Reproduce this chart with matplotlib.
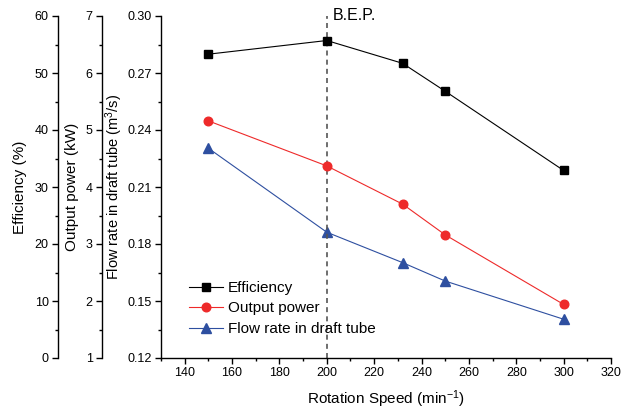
import matplotlib
matplotlib.use("Agg")
import matplotlib.pyplot as plt
from matplotlib.ticker import MultipleLocator

plt.rcParams['font.family'] = ['Liberation Sans', 'DejaVu Sans']
plt.rcParams['mathtext.fontset'] = 'custom'
plt.rcParams['mathtext.rm'] = 'Liberation Sans'
plt.rcParams['mathtext.it'] = 'Liberation Sans:italic'

speed = [150, 200, 232, 250, 300]
efficiency = [53.3, 55.7, 51.7, 46.8, 32.9]
output_power = [5.16, 4.37, 3.70, 3.16, 1.94]
flow_rate = [0.2304, 0.1862, 0.1702, 0.1605, 0.1404]
bep_speed = 200

W, H = 632, 409
fig = plt.figure(figsize=(W / 100, H / 100), dpi=100)
L, R, T, B = 161, 611, 16, 358
ax = fig.add_axes([L / W, 1 - B / H, (R - L) / W, (B - T) / H])
ax_p = ax.twinx()
ax_e = ax.twinx()

red = '#ee2a2a'
blue = '#2e4fa0'
lw = 0.8

for a in (ax, ax_p, ax_e):
    for s in ('top', 'right'):
        a.spines[s].set_visible(False)
    a.patch.set_visible(False)
ax_p.spines['bottom'].set_visible(False)
ax_e.spines['bottom'].set_visible(False)

aw = R - L
ax_p.spines['left'].set_position(('axes', (101.7 - L) / aw))
ax_e.spines['left'].set_position(('axes', (57.7 - L) / aw))
for a in (ax_p, ax_e):
    a.spines['left'].set_visible(True)
    a.yaxis.set_ticks_position('left')
    a.yaxis.set_label_position('left')

l1, = ax_e.plot(speed, efficiency, '-s', color='black', lw=lw, ms=5.5,
                label='Efficiency')
l2, = ax_p.plot(speed, output_power, '-o', color=red, lw=lw, ms=6.2,
                label='Output power')
l3, = ax.plot(speed, flow_rate, '-^', color=blue, lw=lw, ms=7,
              label='Flow rate in draft tube')

ax.set_xlim(130, 320)
ax.set_ylim(0.12, 0.30)
ax_p.set_ylim(1, 7)
ax_e.set_ylim(0, 60)

ax.set_xticks(range(140, 321, 20))
ax.xaxis.set_minor_locator(MultipleLocator(10))
ax.yaxis.set_major_locator(MultipleLocator(0.03))
ax.yaxis.set_minor_locator(MultipleLocator(0.015))
ax.yaxis.set_major_formatter(matplotlib.ticker.FormatStrFormatter('%.2f'))
ax_p.yaxis.set_major_locator(MultipleLocator(1))
ax_p.yaxis.set_minor_locator(MultipleLocator(0.5))
ax_e.yaxis.set_major_locator(MultipleLocator(10))
ax_e.yaxis.set_minor_locator(MultipleLocator(5))

for a in (ax, ax_p, ax_e):
    for s in a.spines.values():
        s.set_linewidth(1.0)
    a.tick_params(which='major', direction='out', length=4.5, width=1.0,
                  labelsize=9, pad=2)
    a.tick_params(which='minor', direction='out', length=2.5, width=1.0)

ax.axvline(bep_speed, color='#555555', lw=1.2, ls=(0, (3, 2.5)))
ax.text(bep_speed + 2.7, 0.30, 'B.E.P.', fontsize=11.5, va='center', ha='left')

ax.set_xlabel('Rotation Speed (min$^{-1}$)', fontsize=11)
ax.xaxis.set_label_coords(0.5, (B - 388) / (B - T))
ax.set_ylabel('Flow rate in draft tube (m$^{3}$/s)', fontsize=10.5)
ax.yaxis.set_label_coords((125 - L) / aw, 0.5)
ax_p.set_ylabel('Output power (kW)', fontsize=11)
ax_p.yaxis.set_label_coords((79 - L) / aw, 0.5)
ax_e.set_ylabel('Efficiency (%)', fontsize=11)
ax_e.yaxis.set_label_coords((27 - L) / aw, 0.5)

leg = ax.legend(handles=[l1, l2, l3], loc='lower left', frameon=False,
                fontsize=11, handlelength=2.2, handletextpad=0.35,
                labelspacing=0.42, borderaxespad=0,
                bbox_to_anchor=((183 - L) / aw, (B - 342) / (B - T)))

fig.savefig('out.png', dpi=100)
